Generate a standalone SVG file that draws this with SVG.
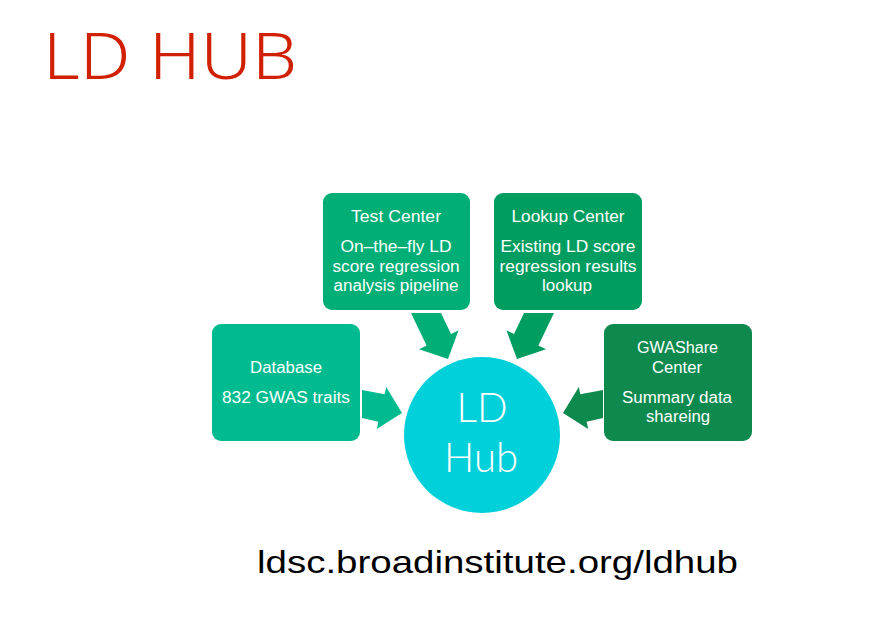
<svg xmlns="http://www.w3.org/2000/svg" width="890" height="622" viewBox="0 0 890 622">
<style>
.box{stroke:none}
.bt{font-family:"Liberation Sans","Noto Sans",sans-serif;font-size:16px;fill:#ffffff;text-anchor:middle}
.hub{font-family:Lato,"Liberation Sans",sans-serif;font-weight:300;font-size:41px;fill:#ffffff;text-anchor:middle}
.db{fill:#00BB8F}
.tc{fill:#00AE76}
.lc{fill:#009D60}
.gw{fill:#0E8A4F}
</style>
<rect width="890" height="622" fill="#ffffff"/>
<text x="43" y="79" font-family="Noto Sans, Open Sans, Liberation Sans, sans-serif" font-weight="300" font-size="65" fill="#D02000" textLength="254" lengthAdjust="spacingAndGlyphs">LD HUB</text>
<g id="connectors">
<polygon class="db" points="362,390 384.6,394.3 386.2,387 402,413 376.8,429 378.4,421.7 362,418"/>
<polygon class="gw" points="603,390 580.4,394.3 578.8,387 563,413 588.2,429 586.6,421.7 603,418"/>
<polygon class="tc" points="411,313 441,313 451,334 458.6,330.3 448,359 419,349.3 426.6,345.6"/>
<polygon class="lc" points="554,313 524,313 514,334 506.4,330.3 517,359 546,349.3 538.4,345.6"/>
</g>
<g id="test-center">
<rect class="box tc" x="323" y="193" width="147" height="117" rx="9"/>
<text class="bt" x="396" y="222" textLength="90" lengthAdjust="spacingAndGlyphs">Test Center</text>
<text class="bt" x="396" y="252" textLength="111" lengthAdjust="spacingAndGlyphs">On–the–fly LD</text>
<text class="bt" x="396" y="272" textLength="127" lengthAdjust="spacingAndGlyphs">score regression</text>
<text class="bt" x="396" y="291" textLength="125" lengthAdjust="spacingAndGlyphs">analysis pipeline</text>
</g>
<g id="lookup-center">
<rect class="box lc" x="494" y="193" width="148" height="117" rx="9"/>
<text class="bt" x="568" y="222" textLength="113" lengthAdjust="spacingAndGlyphs">Lookup Center</text>
<text class="bt" x="568" y="252" textLength="135" lengthAdjust="spacingAndGlyphs">Existing LD score</text>
<text class="bt" x="568" y="272" textLength="137" lengthAdjust="spacingAndGlyphs">regression results</text>
<text class="bt" x="567" y="291" textLength="50" lengthAdjust="spacingAndGlyphs">lookup</text>
</g>
<g id="database">
<rect class="box db" x="212" y="324" width="148" height="117" rx="9"/>
<text class="bt" x="286" y="373" textLength="72" lengthAdjust="spacingAndGlyphs">Database</text>
<text class="bt" x="286" y="403" textLength="128" lengthAdjust="spacingAndGlyphs">832 GWAS traits</text>
</g>
<g id="gwashare-center">
<rect class="box gw" x="604" y="324" width="148" height="117" rx="9"/>
<text class="bt" x="677.5" y="353" textLength="81" lengthAdjust="spacingAndGlyphs">GWAShare</text>
<text class="bt" x="677" y="373" textLength="50" lengthAdjust="spacingAndGlyphs">Center</text>
<text class="bt" x="677" y="403" textLength="110" lengthAdjust="spacingAndGlyphs">Summary data</text>
<text class="bt" x="678" y="422" textLength="64" lengthAdjust="spacingAndGlyphs">shareing</text>
</g>
<g id="ld-hub">
<circle cx="482" cy="435" r="78" fill="#00D0DA"/>
<text class="hub" x="482" y="422" textLength="51" lengthAdjust="spacingAndGlyphs">LD</text>
<text class="hub" x="481" y="472" textLength="74" lengthAdjust="spacingAndGlyphs">Hub</text>
</g>
<text x="257" y="573" font-family="Liberation Sans, Noto Sans, sans-serif" font-size="32" fill="#000000" textLength="481" lengthAdjust="spacingAndGlyphs">ldsc.broadinstitute.org/ldhub</text>
</svg>
